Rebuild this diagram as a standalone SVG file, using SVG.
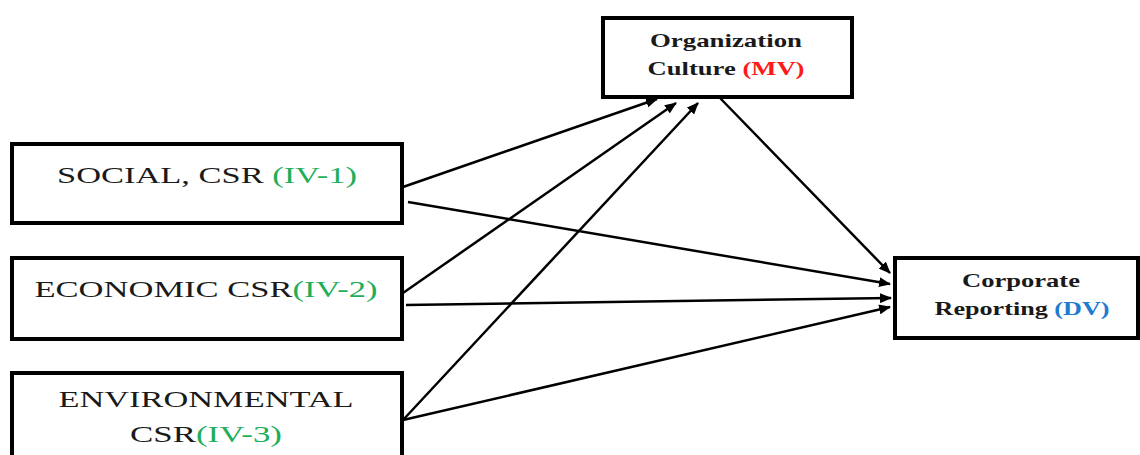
<svg xmlns="http://www.w3.org/2000/svg" width="1140" height="455" viewBox="0 0 1140 455">
<style>
.box{fill:#fff;stroke:#000;stroke-width:4}
.lbl{font-family:"Liberation Serif","Times New Roman","DejaVu Serif",serif;font-size:24px;fill:#1a1a1a;text-anchor:middle}
.bl{font-family:"Liberation Serif","Times New Roman","DejaVu Serif",serif;font-size:19px;font-weight:bold;fill:#1a1a1a;text-anchor:middle}
.g{fill:#1fae5a}
.r{fill:#ff1a1a}
.b{fill:#1f7bd0}
.c{stroke:#000;stroke-width:2.5;fill:none;marker-end:url(#ah)}
</style>
<defs>
<marker id="ah" viewBox="0 0 12 10" refX="11" refY="5" markerWidth="12" markerHeight="10" markerUnits="userSpaceOnUse" orient="auto">
<path d="M0,0 L12,5 L0,10 z" fill="#000"/>
</marker>
</defs>
<rect width="1140" height="455" fill="#fff"/>
<g id="connectors">
<line class="c" x1="403" y1="187" x2="657" y2="99"/>
<line class="c" x1="408" y1="202" x2="890" y2="284"/>
<line class="c" x1="403" y1="293" x2="676" y2="103"/>
<line class="c" x1="406" y1="305" x2="891" y2="298"/>
<line class="c" x1="403" y1="420" x2="698" y2="103"/>
<line class="c" x1="403" y1="420" x2="890" y2="307"/>
<line class="c" x1="720" y1="98" x2="890" y2="273"/>
</g>
<g id="social">
<rect class="box" x="12" y="144" width="390" height="79"/>
<text class="lbl" x="207" y="183" textLength="300" lengthAdjust="spacingAndGlyphs">SOCIAL, CSR <tspan class="g">(IV-1)</tspan></text>
</g>
<g id="economic">
<rect class="box" x="12" y="258" width="390" height="81"/>
<text class="lbl" x="206" y="297" textLength="343" lengthAdjust="spacingAndGlyphs">ECONOMIC CSR<tspan class="g">(IV-2)</tspan></text>
</g>
<g id="environmental">
<rect class="box" x="12" y="373" width="390" height="90"/>
<text class="lbl" x="206" y="407" textLength="295" lengthAdjust="spacingAndGlyphs">ENVIRONMENTAL</text>
<text class="lbl" x="206" y="442" textLength="152" lengthAdjust="spacingAndGlyphs">CSR<tspan class="g">(IV-3)</tspan></text>
</g>
<g id="culture">
<rect class="box" x="603" y="18" width="249" height="79"/>
<text class="bl" x="726" y="47" textLength="152" lengthAdjust="spacingAndGlyphs">Organization</text>
<text class="bl" x="726" y="75" textLength="157" lengthAdjust="spacingAndGlyphs">Culture <tspan class="r">(MV)</tspan></text>
</g>
<g id="reporting">
<rect class="box" x="895" y="258" width="243" height="80"/>
<text class="bl" x="1021" y="287" textLength="118" lengthAdjust="spacingAndGlyphs">Corporate</text>
<text class="bl" x="1022" y="315" textLength="175" lengthAdjust="spacingAndGlyphs">Reporting <tspan class="b">(DV)</tspan></text>
</g>
</svg>
